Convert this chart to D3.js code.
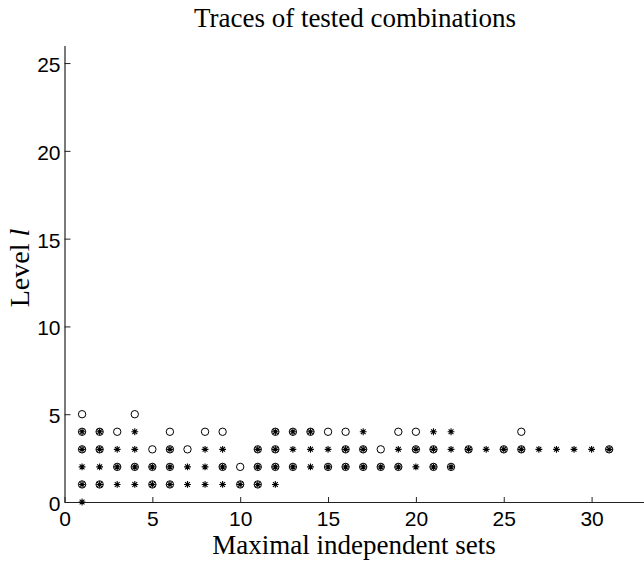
<!DOCTYPE html>
<html>
<head>
<meta charset="utf-8">
<script src="https://cdn.jsdelivr.net/npm/d3@7"></script>
<style>
body { margin: 0; background: #fff; }
svg { display: block; }
.tick text { font-family: "Liberation Sans", Arial, sans-serif; font-size: 21px; fill: #000; }
.label { font-family: "Liberation Serif", "Times New Roman", serif; fill: #000; }
</style>
</head>
<body>
<svg id="chart"></svg>
<script>
const width = 644;
const height = 562;

// level of each row, and the x values (maximal independent set index) that got each marker
var levels = [0, 1, 2, 3, 4, 5];
var circleRows = [
    [],
    [1, 2, 5, 6, 10, 11],
    [3, 4, 5, 6, 9, 10, 11, 12, 13, 15, 16, 17, 18, 19, 21, 22],
    [1, 2, 5, 6, 7, 11, 12, 16, 17, 18, 20, 21, 23, 25, 26, 31],
    [1, 2, 3, 6, 8, 9, 12, 13, 14, 15, 16, 19, 20, 26],
    [1, 4]
];
var starRows = [
    [1],
    [1, 2, 3, 4, 5, 6, 7, 8, 9, 10, 11, 12],
    [1, 2, 3, 4, 5, 6, 7, 8, 9, 11, 12, 13, 14, 15, 16, 17, 18, 19, 20, 21, 22],
    [1, 2, 3, 4, 6, 8, 9, 11, 12, 13, 14, 15, 16, 17, 19, 20, 21, 22, 23, 24, 25, 26, 27, 28, 29, 30, 31],
    [1, 2, 4, 12, 13, 14, 17, 21, 22],
    []
];
var xTicks = [0, 5, 10, 15, 20, 25, 30];
var yTicks = [0, 5, 10, 15, 20, 25];
var xDomain = [0, 33];
var yDomain = [0, 26];
var title = "Traces of tested combinations";
var xTitle = "Maximal independent sets";

var circles = [];
var stars = [];
levels.forEach(function(l, i) {
    circleRows[i].forEach(x => circles.push({x: x, y: l}));
    starRows[i].forEach(x => stars.push({x: x, y: l}));
});

var svg = d3.select("#chart")
    .attr("width", width)
    .attr("height", height);

var x = d3.scaleLinear().domain(xDomain).range([64.5, 644.3]);
var y = d3.scaleLinear().domain(yDomain).range([502, 45.5]);

var xAxis = svg.append("g")
    .attr("transform", "translate(0,502)")
    .call(d3.axisBottom(x).tickValues(xTicks).tickSizeInner(-5).tickSizeOuter(0).tickPadding(9));
var yAxis = svg.append("g")
    .attr("transform", "translate(64.5,0)")
    .call(d3.axisLeft(y).tickValues(yTicks).tickSizeInner(-6).tickSizeOuter(0).tickPadding(4));

[xAxis, yAxis].forEach(function(a) {
    a.select(".domain").attr("stroke", "#222").attr("stroke-width", 1.2);
    a.selectAll(".tick line").attr("stroke", "#222");
});
yAxis.selectAll(".tick text").attr("dy", "0.4em");

var plot = svg.append("g");

plot.selectAll(".circle")
    .data(circles)
    .enter().append("circle")
    .attr("class", "circle")
    .attr("cx", d => x(d.x))
    .attr("cy", d => y(d.y))
    .attr("r", 3.7)
    .attr("fill", "none")
    .attr("stroke", "#000")
    .attr("stroke-width", 1);

function starPath(cx, cy) {
    var r = 3.4, p = "";
    for (var k = 0; k < 4; k++) {
        var a = k * Math.PI / 4;
        var dx = r * Math.cos(a), dy = r * Math.sin(a);
        p += "M" + (cx - dx) + "," + (cy - dy) + "L" + (cx + dx) + "," + (cy + dy);
    }
    return p;
}

plot.selectAll(".star")
    .data(stars)
    .enter().append("path")
    .attr("class", "star")
    .attr("d", d => starPath(x(d.x), y(d.y)))
    .attr("fill", "none")
    .attr("stroke", "#000")
    .attr("stroke-width", 1.1);

svg.append("text")
    .attr("class", "label")
    .attr("x", 355)
    .attr("y", 27)
    .attr("text-anchor", "middle")
    .style("font-size", "27px")
    .text(title);

svg.append("text")
    .attr("class", "label")
    .attr("x", 354)
    .attr("y", 554)
    .attr("text-anchor", "middle")
    .style("font-size", "27px")
    .text(xTitle);

var yLabel = svg.append("text")
    .attr("class", "label")
    .attr("transform", "translate(29,268) rotate(-90)")
    .attr("text-anchor", "middle")
    .style("font-size", "28px");
yLabel.append("tspan").text("Level ");
yLabel.append("tspan").style("font-style", "italic").text("l");
</script>
</body>
</html>
